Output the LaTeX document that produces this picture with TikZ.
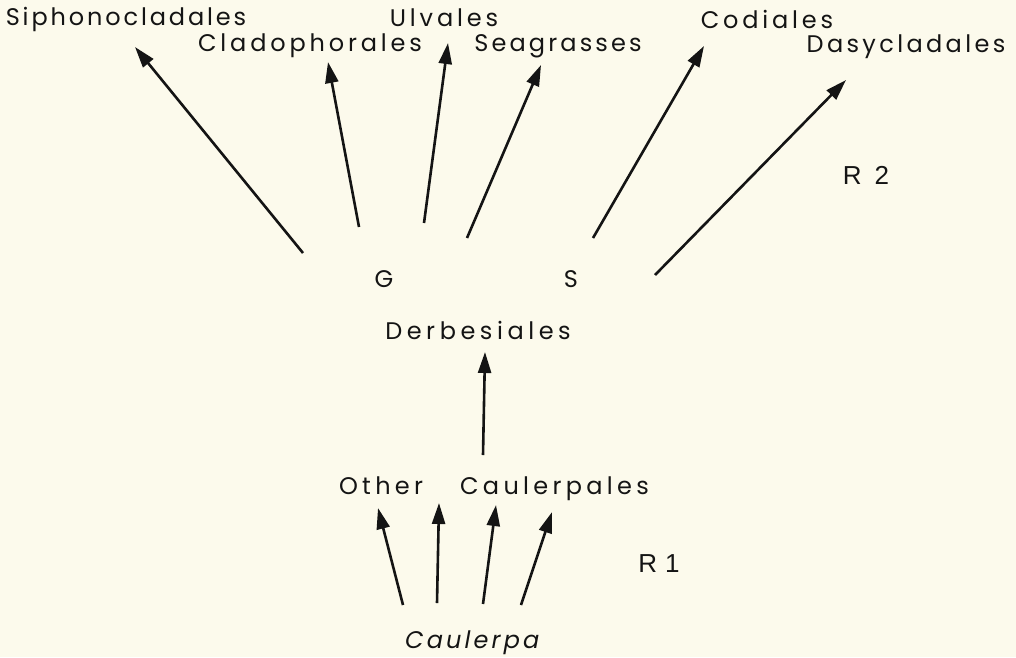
\documentclass[tikz,border=0pt]{standalone}
\usepackage{fontspec}
\usetikzlibrary{arrows.meta}
\newfontfamily\lab{Poppins}
\newfontfamily\labobl[FakeSlant=0.18]{Poppins}
\newfontfamily\rlab{Liberation Sans}
\definecolor{paper}{HTML}{FCFAEC}
\definecolor{ink}{HTML}{141414}
\tikzset{
  taxon/.style={anchor=base, inner sep=0pt, text=ink, font=\lab\fontsize{24}{28}\selectfont\addfontfeature{LetterSpace=#1}},
  taxon/.default=14,
  taxobl/.style={anchor=base, inner sep=0pt, text=ink, font=\labobl\fontsize{24}{28}\selectfont\addfontfeature{LetterSpace=#1}},
  taxobl/.default=13,
  region/.style={anchor=base, inner sep=0pt, text=ink, font=\rlab\fontsize{26}{30}\selectfont},
  link/.style={draw=ink, line width=2.6pt, -{Triangle[length=21pt,width=13pt]}},
}
\begin{document}
\begin{tikzpicture}[x=1pt,y=-1pt]
\fill[paper] (0,0) rectangle (1016,657);
\useasboundingbox (0,0) rectangle (1016,657);
% labels
\node[taxon=12] (sipho) at (126,25) {Siphonocladales};
\node[taxon=16] (clado) at (310,51) {Cladophorales};
\node[taxon=16] (ulva) at (444,26) {Ulvales};
\node[taxon=13] (seag) at (558,51) {Seagrasses};
\node[taxon=16] (codi) at (767,28) {Codiales};
\node[taxon=14] (dasy) at (906,52) {Dasycladales};
\node[taxon] (g) at (384,287) {G};
\node[taxon] (s) at (571,287) {S};
\node[taxon=19] (derb) at (478,339) {Derbesiales};
\node[taxon=18] (other) at (494,494) {Other\hspace{37pt}Caulerpales};
\node[taxobl=13] (caul) at (471,648) {Caulerpa};
\node[region] (r2) at (866,184) {R\hspace{13pt}2};
\node[region] (r1) at (659,572) {R\hspace{8pt}1};
% arrow ends
\coordinate (a1s) at (303,253); \coordinate (a1t) at (135,47);
\coordinate (a2s) at (359,227); \coordinate (a2t) at (328,62);
\coordinate (a3s) at (424,223); \coordinate (a3t) at (448,43);
\coordinate (a4s) at (467,238); \coordinate (a4t) at (541,65);
\coordinate (a5s) at (593,238); \coordinate (a5t) at (704,46);
\coordinate (a6s) at (655,275); \coordinate (a6t) at (846,80);
\coordinate (d1s) at (483,455); \coordinate (d1t) at (485,352);
\coordinate (b1s) at (403,605); \coordinate (b1t) at (378,508);
\coordinate (b2s) at (437,603); \coordinate (b2t) at (439,503);
\coordinate (b3s) at (483,604); \coordinate (b3t) at (496,505);
\coordinate (b4s) at (521,605); \coordinate (b4t) at (552,512);
% connectors
\draw[link] (a1s) -- (a1t);
\draw[link] (a2s) -- (a2t);
\draw[link] (a3s) -- (a3t);
\draw[link] (a4s) -- (a4t);
\draw[link] (a5s) -- (a5t);
\draw[link] (a6s) -- (a6t);
\draw[link] (d1s) -- (d1t);
\draw[link] (b1s) -- (b1t);
\draw[link] (b2s) -- (b2t);
\draw[link] (b3s) -- (b3t);
\draw[link] (b4s) -- (b4t);
\end{tikzpicture}
\end{document}
